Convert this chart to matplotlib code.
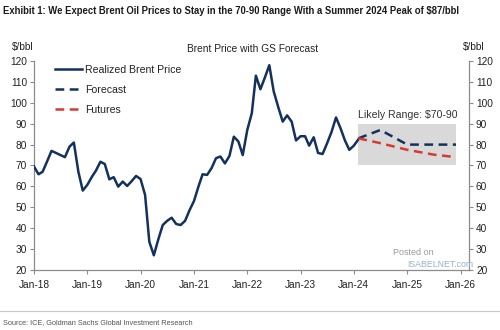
import numpy as np
import pandas as pd
import matplotlib
matplotlib.use('Agg')
import matplotlib.pyplot as plt

plt.rcParams['font.family'] = ['Liberation Sans', 'DejaVu Sans']

# realized Brent, monthly Jan-2018 .. Feb-2024
realized = [
    69.5, 65.8, 67, 72, 77, 76, 75, 74, 79, 81, 67, 58,
    60.7, 64.5, 67.5, 71.8, 70.7, 63.4, 64.4, 59.9, 62.3, 60.2, 62.5, 65,
    63.5, 55.9, 33.5, 27, 34.5, 41.5, 43.5, 45, 42, 41.5, 43.5, 48.5,
    53, 60, 65.8, 65.5, 68.7, 73.5, 74.3, 71, 74.6, 83.8, 81.5, 75,
    87, 95, 113, 106.5, 112, 118, 105.5, 98, 91, 94, 91, 82,
    84, 84, 79.5, 83.5, 76, 75.5, 80.5, 86, 93, 88, 82, 77.5,
    79.5, 82.5,
]
realized_dates = pd.date_range('2018-01-01', periods=len(realized), freq='MS')

forecast_dates = pd.to_datetime(['2024-02-01', '2024-07-01', '2025-01-01', '2025-12-01'])
forecast = [83, 87, 80, 80]

futures_dates = pd.to_datetime(['2024-02-01', '2024-07-01', '2025-01-01', '2025-07-01', '2025-12-01'])
futures = [83, 80.7, 77.5, 75.2, 74]

range_lo, range_hi = 70, 90
range_start, range_end = pd.Timestamp('2024-02-01'), pd.Timestamp('2025-12-01')

year_ticks = pd.date_range('2018-01-01', '2026-01-01', freq='YS')
year_labels = [d.strftime('%b-%y') for d in year_ticks]

navy = '#13315c'
red = '#d63a32'
grey = '#8c8c8c'

fig = plt.figure(figsize=(5, 3.3), dpi=100)
ax = fig.add_axes([0.068, 0.182, 0.87, 0.633])

ax.axvspan(range_start, range_end, ymin=(range_lo - 20) / 100, ymax=(range_hi - 20) / 100,
           color='#d9d9d9', lw=0, zorder=1)
ax.plot(realized_dates, realized, color=navy, lw=1.8, label='Realized Brent Price', zorder=3,
        solid_joinstyle='round')
ax.plot(forecast_dates, forecast, color=navy, lw=1.8, dashes=(3.5, 2.2), label='Forecast', zorder=3)
ax.plot(futures_dates, futures, color=red, lw=1.8, dashes=(3.5, 2.2), label='Futures', zorder=3)

ax.text(pd.Timestamp('2024-02-01'), 92, 'Likely Range: \\$70-90', fontsize=7.6, color='#333333',
        ha='left', va='bottom')

ax.set_ylim(20, 120)
ax.set_yticks(range(20, 121, 10))
ax.set_xlim(pd.Timestamp('2018-01-01'), pd.Timestamp('2026-02-28'))
ax.set_xticks(year_ticks)
ax.set_xticklabels(year_labels)

for s in ['left', 'right', 'bottom']:
    ax.spines[s].set_color(grey)
    ax.spines[s].set_linewidth(0.9)
ax.spines['top'].set_visible(False)
ax.tick_params(axis='both', labelsize=7.3, colors='#222222', length=3, width=0.8, color=grey)
ax.tick_params(axis='y', right=True, labelright=True, pad=2)
ax.tick_params(axis='x', pad=4)

leg = ax.legend(loc='upper left', bbox_to_anchor=(0.026, 1.028), frameon=False, fontsize=7.6,
                handlelength=2.6, handletextpad=0.3, labelspacing=0.95)
for t in leg.get_texts():
    t.set_color('#222222')

fig.text(0.006, 0.968, 'Exhibit 1: We Expect Brent Oil Prices to Stay in the 70-90 Range With a Summer 2024 Peak of \\$87/bbl',
         fontsize=6.85, fontweight='bold', ha='left', va='center', color='#1a1a1a')
fig.text(0.024, 0.858, '\\$/bbl', fontsize=7.3, ha='left', va='center', color='#222222')
fig.text(0.926, 0.858, '\\$/bbl', fontsize=7.3, ha='left', va='center', color='#222222')
fig.text(0.506, 0.852, 'Brent Price with GS Forecast', fontsize=7.3, ha='center', va='center',
         color='#222222')

fig.text(0.786, 0.236, 'Posted on', fontsize=6.5, ha='left', va='center', color='#9a9a9a')
fig.text(0.814, 0.197, 'ISABELNET.com', fontsize=6.3, ha='left', va='center', color='#9ab0c4')

fig.add_artist(plt.Line2D([0, 1], [0.058, 0.058], color='#c8c8c8', lw=0.8))
fig.text(0.006, 0.024, 'Source: ICE, Goldman Sachs Global Investment Research', fontsize=5.3,
         ha='left', va='center', color='#555555')

fig.savefig('out.png', dpi=100)
